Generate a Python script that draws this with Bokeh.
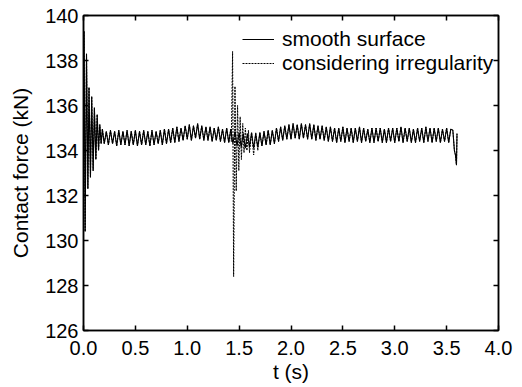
import numpy as np
from bokeh.plotting import figure
from bokeh.models import (LinearAxis, FixedTicker, PrintfTickFormatter, Legend, LegendItem,
                          Range1d, CustomJSTickFormatter)
from bokeh.embed import file_html
from bokeh.resources import INLINE

# ---------------- data ----------------
x_ticks = [0.0, 0.5, 1.0, 1.5, 2.0, 2.5, 3.0, 3.5, 4.0]
y_ticks = [126, 128, 130, 132, 134, 136, 138, 140]

# start-up transient (smooth surface)
t_start = [0.0, 0.005, 0.016, 0.029, 0.042, 0.053, 0.067, 0.079, 0.093, 0.105,
           0.119, 0.132, 0.145, 0.157, 0.170, 0.182]
f_start = [134.5, 139.3, 130.4, 138.3, 132.3, 136.8, 132.8, 136.4, 133.1, 135.9,
           133.6, 135.6, 134.0, 135.15, 134.3, 134.95]

# steady running, sampled every 0.02 s from 0.20 s to 3.56 s (smooth surface)
f_steady = [
    134.30, 134.85, 134.25, 134.90, 134.30, 134.85, 134.20, 134.90, 134.25, 134.85,
    134.25, 134.90, 134.20, 134.85, 134.25, 134.90, 134.20, 134.85, 134.25, 134.90,
    134.25, 134.85, 134.20, 134.90, 134.25, 134.85, 134.30, 134.90, 134.25, 134.95,
    134.30, 134.95, 134.35, 135.00, 134.35, 135.05, 134.40, 135.00, 134.45, 135.10,
    134.50, 135.15, 134.45, 135.10, 134.55, 135.20, 134.50, 135.10, 134.45, 135.05,
    134.45, 135.05, 134.40, 135.00, 134.45, 135.05, 134.40, 134.95, 134.35, 135.00,
    134.35, 134.95, 134.30, 134.85, 134.20, 134.80, 134.15, 134.75, 134.10, 134.75,
    134.15, 134.80, 134.10, 134.75, 134.15, 134.80, 134.20, 134.85, 134.25, 134.90,
    134.25, 134.90, 134.30, 135.00, 134.40, 135.05, 134.45, 135.10, 134.50, 135.15,
    134.50, 135.20, 134.55, 135.15, 134.50, 135.20, 134.55, 135.15, 134.50, 135.20,
    134.50, 135.15, 134.45, 135.10, 134.50, 135.10, 134.45, 135.05, 134.40, 135.05,
    134.40, 135.00, 134.35, 135.00, 134.40, 135.05, 134.35, 135.00, 134.40, 135.00,
    134.35, 135.00, 134.40, 135.05, 134.35, 135.00, 134.40, 134.95, 134.35, 135.00,
    134.35, 135.00, 134.40, 135.00, 134.35, 134.95, 134.35, 135.00, 134.40, 135.00,
    134.35, 135.00, 134.40, 135.05, 134.35, 135.00, 134.40, 135.00, 134.35, 134.95,
    134.35, 135.00, 134.40, 135.00, 134.35, 135.05, 134.40, 135.00, 134.35, 135.00,
    134.40, 135.00, 134.35, 134.95, 134.40, 135.00, 134.35, 134.95, 134.90,
]
t_steady = list(np.round(np.arange(len(f_steady)) * 0.02 + 0.20, 3))

# end of run
t_end = [3.575, 3.585, 3.595, 3.600]
f_end = [134.0, 133.8, 133.35, 134.75]

t_smooth = t_start + t_steady + t_end
f_smooth = f_start + f_steady + f_end

# considering irregularity: differs from smooth only around the irregularity at ~1.44 s
t_irr_seg = [1.425, 1.437, 1.447, 1.460, 1.472, 1.485, 1.497, 1.510, 1.522, 1.535,
             1.547, 1.560, 1.575, 1.590, 1.600, 1.620, 1.640, 1.660, 1.680, 1.700]
f_irr_seg = [134.4, 138.4, 128.4, 136.85, 132.2, 136.0, 133.1, 135.5, 133.6, 135.2,
             133.9, 135.0, 134.0, 134.9, 133.9, 134.8, 133.8, 134.8, 134.0, 134.8]

t_irr, f_irr = [], []
for tt, ff in zip(t_smooth, f_smooth):
    if tt < t_irr_seg[0]:
        t_irr.append(tt); f_irr.append(ff)
t_irr += t_irr_seg
f_irr += f_irr_seg
for tt, ff in zip(t_smooth, f_smooth):
    if tt > t_irr_seg[-1]:
        t_irr.append(tt); f_irr.append(ff)

# ---------------- figure ----------------
FONT = "Liberation Sans"
FS_TICK = "20px"
FS_LAB = "21px"

p = figure(width=514, height=385, output_backend="svg", toolbar_location=None,
           x_range=Range1d(0, 4.0), y_range=Range1d(126, 140),
           min_border_left=83, min_border_right=16, min_border_top=15, min_border_bottom=53)
p.grid.visible = False
p.outline_line_color = "black"
p.outline_line_width = 1.5
p.background_fill_color = "white"
p.border_fill_color = "white"

def style_axis(ax, ticks):
    ax.ticker = FixedTicker(ticks=ticks)
    ax.major_tick_in = 5
    ax.major_tick_out = 0
    ax.minor_tick_line_color = None
    ax.axis_line_color = "black"
    ax.axis_line_width = 1.5
    ax.major_tick_line_color = "black"
    ax.major_tick_line_width = 1.5
    ax.major_label_text_font = FONT
    ax.major_label_text_font_size = FS_TICK
    ax.major_label_text_color = "black"
    ax.axis_label_text_font = FONT
    ax.axis_label_text_font_size = FS_LAB
    ax.axis_label_text_font_style = "normal"
    ax.axis_label_text_color = "black"

style_axis(p.xaxis[0], x_ticks)
p.xaxis[0].formatter = PrintfTickFormatter(format="%.1f")
p.xaxis[0].axis_label = "t (s)"
p.xaxis[0].major_label_standoff = 10
p.xaxis[0].axis_label_standoff = 2
style_axis(p.yaxis[0], y_ticks)
p.yaxis[0].axis_label = "Contact force (kN)"
p.yaxis[0].major_label_standoff = 5
p.yaxis[0].axis_label_standoff = 10

blank = CustomJSTickFormatter(code="return '';")
top = LinearAxis()
style_axis(top, x_ticks)
top.formatter = blank
top.major_label_standoff = 0
p.add_layout(top, "above")
right = LinearAxis()
style_axis(right, y_ticks)
right.formatter = blank
right.major_label_standoff = 0
p.add_layout(right, "right")

r_irr = p.line(t_irr, f_irr, line_color="black", line_width=1, line_dash="2 1")
r_smooth = p.line(t_smooth, f_smooth, line_color="black", line_width=1.1)

legend = Legend(items=[LegendItem(label="smooth surface", renderers=[r_smooth]),
                       LegendItem(label="considering irregularity", renderers=[r_irr])],
                location=(159, 255))
legend.background_fill_alpha = 0
legend.border_line_color = None
legend.label_text_font = FONT
legend.label_text_font_size = FS_LAB
legend.label_text_color = "black"
legend.glyph_width = 32
legend.glyph_height = 20
legend.label_height = 20
legend.label_standoff = 8
legend.spacing = -4
legend.padding = 0
legend.margin = 0
p.add_layout(legend, "center")

open("out.html", "w").write(file_html(p, INLINE))
